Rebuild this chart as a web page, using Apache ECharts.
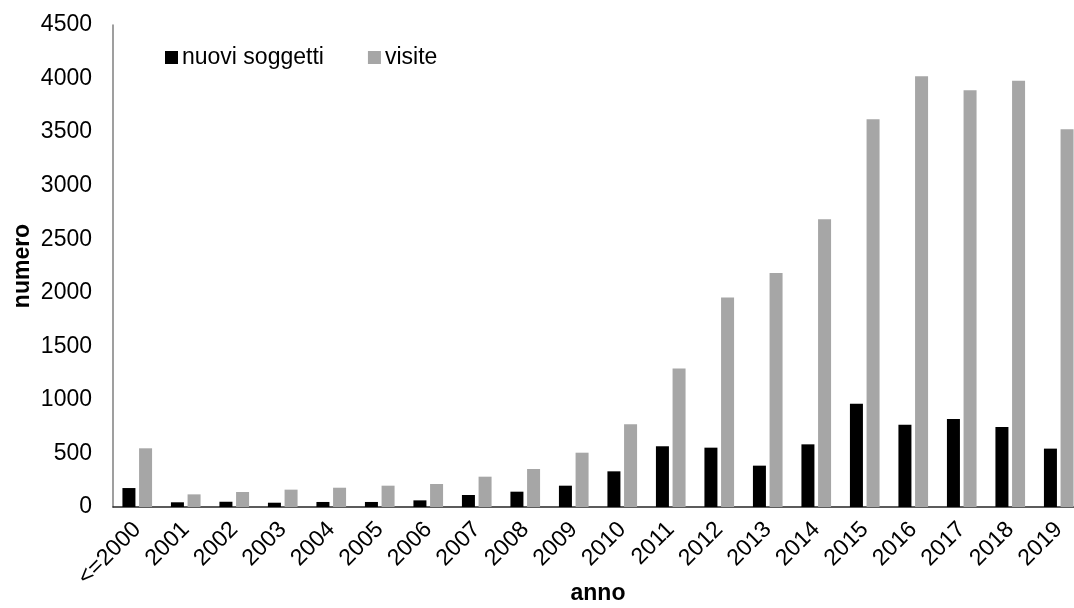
<!DOCTYPE html>
<html>
<head>
<meta charset="utf-8">
<script src="https://cdn.jsdelivr.net/npm/echarts@6/dist/echarts.min.js"></script>
<style>
  html, body { margin: 0; padding: 0; background: #fff; }
  #chart { width: 1074px; height: 608px; }
</style>
</head>
<body>
<div id="chart"></div>
<script>
// Years (first bucket groups everything up to 2000)
const categories = ['<=2000', '2001', '2002', '2003', '2004', '2005', '2006', '2007', '2008', '2009',
  '2010', '2011', '2012', '2013', '2014', '2015', '2016', '2017', '2018', '2019'];

// New subjects per year
const nuoviSoggetti = [177, 44, 49, 40, 47, 47, 62, 112, 143, 199,
  333, 567, 554, 386, 585, 965, 769, 822, 747, 545];

// Visits per year
const visite = [548, 118, 140, 162, 180, 199, 215, 283, 355, 507,
  772, 1292, 1955, 2185, 2686, 3620, 4021, 3890, 3980, 3526];

const yMin = 0, yMax = 4500, yStep = 500;

const FONT = '"Liberation Sans", Arial, sans-serif';
const FS = 23;

const chart = echarts.init(document.getElementById('chart'), null, { renderer: 'canvas' });

chart.setOption({
  backgroundColor: '#ffffff',
  animation: false,
  textStyle: { fontFamily: FONT, color: '#000' },
  legend: {
    left: 165,
    top: 46,
    padding: 0,
    itemWidth: 13,
    itemHeight: 13,
    itemGap: 44,
    icon: 'rect',
    textStyle: { fontFamily: FONT, fontSize: FS, color: '#000', padding: [0, 0, 0, -1] },
    data: ['nuovi soggetti', 'visite']
  },
  grid: {
    left: 113,
    top: 25,
    width: 970,
    bottom: 101,
    containLabel: false,
    outerBoundsMode: 'none'
  },
  xAxis: {
    type: 'category',
    data: categories,
    name: 'anno',
    nameLocation: 'middle',
    nameGap: 75,
    nameMoveOverlap: false,
    nameTextStyle: { fontFamily: FONT, fontSize: FS, fontWeight: 'bold', color: '#000' },
    axisLine: { show: true, lineStyle: { color: '#262626', width: 1.5 } },
    axisTick: { show: false },
    axisLabel: {
      rotate: 45,
      margin: 19,
      interval: 0,
      fontFamily: FONT,
      fontSize: FS,
      color: '#000'
    },
    splitLine: { show: false }
  },
  yAxis: {
    type: 'value',
    min: yMin,
    max: yMax,
    interval: yStep,
    name: 'numero',
    nameLocation: 'middle',
    nameGap: 79,
    nameMoveOverlap: false,
    nameRotate: 90,
    nameTextStyle: { fontFamily: FONT, fontSize: FS, fontWeight: 'bold', color: '#000' },
    axisLine: { show: true, lineStyle: { color: '#7f7f7f', width: 1.5 } },
    axisTick: { show: false },
    axisLabel: {
      margin: 21,
      fontFamily: FONT,
      fontSize: FS,
      color: '#000',
      formatter: v => String(v)
    },
    splitLine: { show: false }
  },
  series: [
    {
      name: 'nuovi soggetti',
      type: 'bar',
      data: nuoviSoggetti,
      barWidth: 13,
      barGap: '28%',
      itemStyle: { color: '#000000' }
    },
    {
      name: 'visite',
      type: 'bar',
      data: visite,
      barWidth: 13,
      itemStyle: { color: '#a6a6a6' }
    }
  ]
});
</script>
</body>
</html>
